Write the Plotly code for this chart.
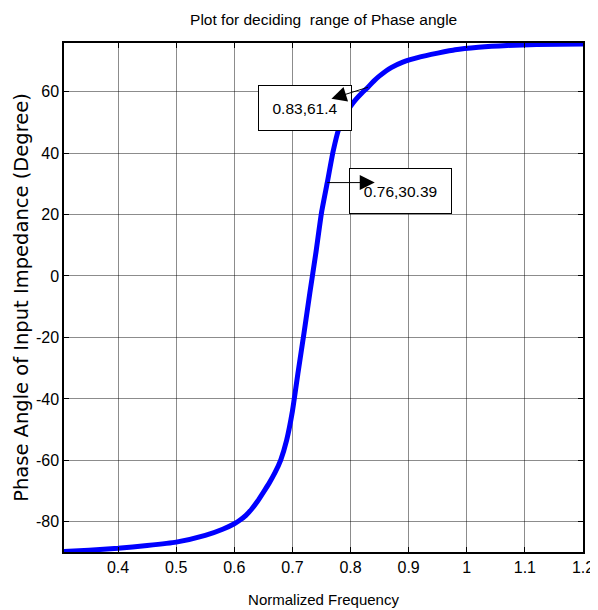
import plotly.graph_objects as go

freq = [0.307, 0.35, 0.40, 0.45, 0.50, 0.55, 0.58, 0.60, 0.61, 0.62, 0.63, 0.64, 0.65, 0.66,
        0.67, 0.68, 0.69, 0.70, 0.71, 0.72, 0.73, 0.74, 0.75, 0.76, 0.77, 0.78, 0.79, 0.80,
        0.81, 0.82, 0.83, 0.84, 0.85, 0.87, 0.89, 0.92, 0.95, 0.98, 1.02, 1.07, 1.12, 1.20]
phase = [-89.6, -89.2, -88.6, -87.7, -86.6, -84.4, -82.4, -80.6, -79.4, -77.9, -75.8, -73.3,
         -70.4, -67.4, -64.0, -59.8, -53.5, -44.0, -31.0, -18.5, -5.5, 7.0, 20.5, 30.39,
         40.5, 48.0, 52.3, 55.2, 57.6, 59.6, 61.4, 63.4, 65.1, 67.8, 69.6, 71.3, 72.5, 73.6,
         74.4, 75.0, 75.3, 75.5]

x_ticks = [0.4, 0.5, 0.6, 0.7, 0.8, 0.9, 1.0, 1.1, 1.2]
x_tick_labels = ["0.4", "0.5", "0.6", "0.7", "0.8", "0.9", "1", "1.1", "1.2"]
y_ticks = [-80, -60, -40, -20, 0, 20, 40, 60]
y_tick_labels = ["-80", "-60", "-40", "-20", "0", "20", "40", "60"]

# data tips: (x, y, label)
tips_x = [0.83, 0.76]
tips_y = [61.4, 30.39]
tips_text = ["0.83,61.4", "0.76,30.39"]

FONT = "Liberation Sans, Arial, sans-serif"

fig = go.Figure()
fig.add_trace(go.Scatter(x=freq, y=phase, mode="lines",
                         line=dict(color="#0000ff", width=5, shape="spline", smoothing=0.5),
                         showlegend=False))

axis_common = dict(
    showline=True, linecolor="black", linewidth=1.5, mirror="ticks",
    ticks="inside", ticklen=5, tickwidth=1, tickcolor="black",
    showgrid=True, gridcolor="rgba(0,0,0,0.45)", gridwidth=1,
    zeroline=False, automargin=False,
    tickfont=dict(family=FONT, size=16, color="black"),
)

fig.update_xaxes(range=[0.307, 1.2], tickvals=x_ticks, ticktext=x_tick_labels,
                 title=dict(text="Normalized Frequency", font=dict(family=FONT, size=15, color="black"),
                            standoff=20),
                 **axis_common)
fig.update_yaxes(range=[-89.8, 75.8], tickvals=y_ticks, ticktext=y_tick_labels,
                 title=dict(text="Phase Angle of Input Impedance (Degree)",
                            font=dict(family="DejaVu Sans, sans-serif", size=19.5, color="black"),
                            standoff=2),
                 **axis_common)

# arrows: tail on the curve, head at the box
arrow_offsets = [(-38, 12), (49, 0)]
box_shifts = [(-63, -21), (73, -8)]
box_sizes = [(92, 44), (101, 44)]
for i in range(len(tips_x)):
    fig.add_annotation(x=tips_x[i], y=tips_y[i], xref="x", yref="y", text=tips_text[i],
                       showarrow=False, xshift=box_shifts[i][0], yshift=box_shifts[i][1],
                       width=box_sizes[i][0], height=box_sizes[i][1], borderpad=0,
                       bordercolor="black", borderwidth=1, bgcolor="white",
                       align="center", valign="middle",
                       font=dict(family=FONT, size=15.5, color="black"))
for i in range(len(tips_x)):
    fig.add_annotation(x=tips_x[i], y=tips_y[i], xref="x", yref="y", text="",
                       showarrow=True, arrowside="start", startarrowhead=2, startarrowsize=3.0,
                       arrowwidth=1, arrowcolor="black",
                       ax=arrow_offsets[i][0], ay=arrow_offsets[i][1], standoff=0, startstandoff=0)

fig.update_layout(
    width=590, height=602,
    margin=dict(l=56, r=15, t=35, b=58),
    paper_bgcolor="white", plot_bgcolor="white",
    title=dict(text="Plot for deciding  range of Phase angle", x=0.535, xanchor="center",
               y=0.980, yanchor="middle", automargin=False,
               font=dict(family=FONT, size=15.5, color="black")),
)

fig.write_html("out.html")
